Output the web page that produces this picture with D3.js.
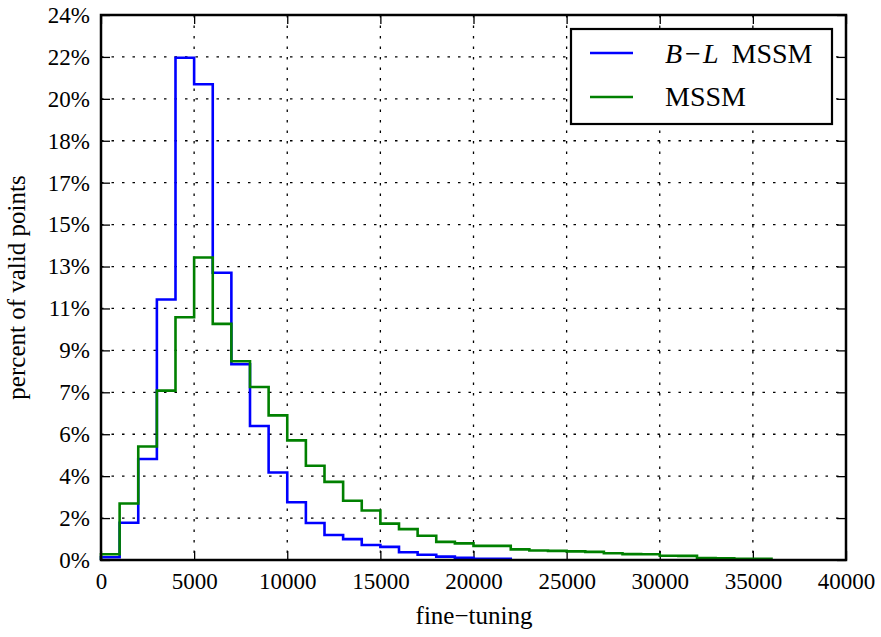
<!DOCTYPE html>
<html>
<head>
<meta charset="utf-8">
<script src="https://cdn.jsdelivr.net/npm/d3@7"></script>
<style>
  body { margin: 0; background: #fff; }
</style>
</head>
<body>
<div id="graphSection"></div>
<script>
// fine-tuning bins, 1000 wide, starting at 0
const BIN_WIDTH = 1000;

// percent of valid points per bin
var blValues = [
    0.12, 1.64, 4.45, 11.47, 22.12, 20.95, 12.65, 8.62, 5.90, 3.85,
    2.54, 1.63, 1.10, 0.92, 0.66, 0.58, 0.34, 0.23, 0.15, 0.10,
    0.05, 0.05
];
var mssmValues = [
    0.25, 2.49, 5.00, 7.46, 10.69, 13.32, 10.40, 8.75, 7.62, 6.37,
    5.27, 4.15, 3.44, 2.61, 2.18, 1.60, 1.36, 1.07, 0.80, 0.73,
    0.62, 0.62, 0.47, 0.42, 0.40, 0.38, 0.36, 0.30, 0.26, 0.25,
    0.19, 0.18, 0.09, 0.08, 0.05, 0.05
];

var seriesNames = ["MSSM"];
var xTicks = [0, 5000, 10000, 15000, 20000, 25000, 30000, 35000, 40000];
var yTickLabels = ["0%", "2%", "4%", "6%", "7%", "9%", "11%", "13%", "15%", "17%", "18%", "20%", "22%", "24%"];

const HEIGHT = 637;
const WIDTH = 881;

const LEFT = 101, RIGHT = 846, TOP = 15, BOTTOM = 560;
const XAXIS_DOMAIN = [0, 40000];
const YAXIS_DOMAIN = [0, 24];
const FONT = "Liberation Serif";

var svg = d3.select("#graphSection")
    .append("svg")
    .attr("height", HEIGHT)
    .attr("width", WIDTH)
    .append("g");

svg.append("rect")
    .attr("height", HEIGHT)
    .attr("width", WIDTH)
    .attr("fill", "white");

var xScale = d3.scaleLinear().domain(XAXIS_DOMAIN).range([LEFT, RIGHT]),
    yScale = d3.scaleLinear().domain(YAXIS_DOMAIN).range([BOTTOM, TOP]);

// y ticks sit at 13 equal steps, labels are rounded
var yTicks = yTickLabels.map(function (d, i) { return i * YAXIS_DOMAIN[1] / (yTickLabels.length - 1); });

// grid
svg.append("g").selectAll("line")
    .data(xTicks)
    .enter().append("line")
    .attr("x1", function (d) { return xScale(d); })
    .attr("x2", function (d) { return xScale(d); })
    .attr("y1", TOP).attr("y2", BOTTOM)
    .attr("stroke", "black").attr("stroke-width", 1.3)
    .attr("stroke-dasharray", "2.5,8");

svg.append("g").selectAll("line")
    .data(yTicks)
    .enter().append("line")
    .attr("x1", LEFT).attr("x2", RIGHT)
    .attr("y1", function (d) { return yScale(d); })
    .attr("y2", function (d) { return yScale(d); })
    .attr("stroke", "black").attr("stroke-width", 1.3)
    .attr("stroke-dasharray", "2.5,8");

// axes, ticks inward on all four sides
function tickStyle(g) {
    g.select(".domain").remove();
    g.selectAll(".tick line").attr("stroke", "black").attr("stroke-width", 1.3);
    g.selectAll("text").style("font-family", FONT).style("font-size", "23px").attr("fill", "black");
}

svg.append("g")
    .attr("transform", "translate(0," + BOTTOM + ")")
    .call(d3.axisBottom(xScale).tickValues(xTicks).tickSize(-9).tickPadding(13).tickFormat(d3.format("d")))
    .call(tickStyle);

svg.append("g")
    .attr("transform", "translate(0," + TOP + ")")
    .call(d3.axisTop(xScale).tickValues(xTicks).tickSize(-9).tickFormat(""))
    .call(tickStyle);

svg.append("g")
    .attr("transform", "translate(" + LEFT + ",0)")
    .call(d3.axisLeft(yScale).tickValues(yTicks).tickSize(-9).tickPadding(11)
        .tickFormat(function (d, i) { return yTickLabels[i]; }))
    .call(tickStyle);

svg.append("g")
    .attr("transform", "translate(" + RIGHT + ",0)")
    .call(d3.axisRight(yScale).tickValues(yTicks).tickSize(-9).tickFormat(""))
    .call(tickStyle);

// step outlines
function stepPoints(values) {
    var pts = [[0, 0]];
    values.forEach(function (v, i) {
        pts.push([i * BIN_WIDTH, v]);
        pts.push([(i + 1) * BIN_WIDTH, v]);
    });
    pts.push([values.length * BIN_WIDTH, 0]);
    return pts;
}

var line = d3.line()
    .x(function (d) { return xScale(d[0]); })
    .y(function (d) { return yScale(d[1]); });

svg.append("path")
    .attr("d", line(stepPoints(blValues)))
    .attr("fill", "none").attr("stroke", "#0000ff").attr("stroke-width", 2.6);

svg.append("path")
    .attr("d", line(stepPoints(mssmValues)))
    .attr("fill", "none").attr("stroke", "#008000").attr("stroke-width", 2.6);

// frame
svg.append("rect")
    .attr("x", LEFT).attr("y", TOP)
    .attr("width", RIGHT - LEFT).attr("height", BOTTOM - TOP)
    .attr("fill", "none").attr("stroke", "black").attr("stroke-width", 2.5);

// axis labels
svg.append("text")
    .attr("x", 474)
    .attr("y", 624)
    .attr("text-anchor", "middle")
    .style("font-family", FONT)
    .style("font-size", "25px")
    .text("fine\u2212tuning");

svg.append("text")
    .attr("transform", "translate(25," + ((TOP + BOTTOM) / 2) + ") rotate(-90)")
    .attr("text-anchor", "middle")
    .style("font-family", FONT)
    .style("font-size", "25px")
    .text("percent of valid points");

// legend
var legend = svg.append("g");
legend.append("rect")
    .attr("x", 571).attr("y", 29)
    .attr("width", 261).attr("height", 95)
    .attr("fill", "white").attr("stroke", "black").attr("stroke-width", 2.2);

var legendRows = [
    { color: "#0000ff", y: 53 },
    { color: "#008000", y: 97 }
];
legend.selectAll("line.key")
    .data(legendRows)
    .enter().append("line")
    .attr("class", "key")
    .attr("x1", 590).attr("x2", 633)
    .attr("y1", function (d) { return d.y; })
    .attr("y2", function (d) { return d.y; })
    .attr("stroke", function (d) { return d.color; })
    .attr("stroke-width", 2.6);

var t1 = legend.append("text")
    .attr("x", 665).attr("y", 63)
    .style("font-family", FONT)
    .style("font-size", "28px");
t1.append("tspan").style("font-style", "italic").text("B");
t1.append("tspan").attr("dx", 3).text("\u2212");
t1.append("tspan").attr("dx", 2).style("font-style", "italic").text("L");
t1.append("tspan").attr("dx", 6).text(" MSSM");

legend.append("text")
    .attr("x", 665).attr("y", 106)
    .style("font-family", FONT)
    .style("font-size", "28px")
    .text(seriesNames[0]);
</script>
</body>
</html>
